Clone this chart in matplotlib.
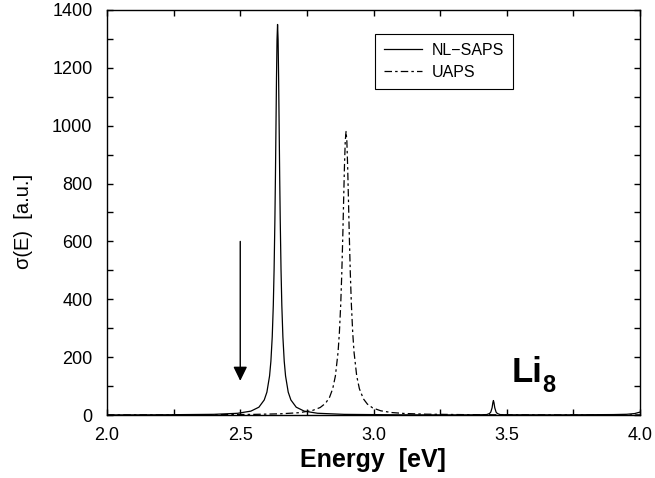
import matplotlib
matplotlib.use("Agg")
import matplotlib.pyplot as plt
from matplotlib.ticker import MultipleLocator, FormatStrFormatter

plt.rcParams['font.family'] = ['Liberation Sans', 'DejaVu Sans']

# NL-SAPS spectrum (solid)
nl_energy = [2.00, 2.20, 2.40, 2.49, 2.54, 2.57, 2.59, 2.60, 2.61, 2.615, 2.62, 2.624,
             2.627, 2.63, 2.632, 2.634, 2.636, 2.638, 2.64, 2.642, 2.644, 2.646, 2.648,
             2.65, 2.653, 2.656, 2.66, 2.665, 2.67, 2.68, 2.69, 2.71, 2.74, 2.79, 2.89,
             3.10, 3.30, 3.40, 3.425, 3.435, 3.44, 3.445, 3.448, 3.45, 3.452, 3.455,
             3.46, 3.465, 3.475, 3.50, 3.70, 3.90, 3.95, 3.98, 4.00]
nl_sigma = [0.3, 0.7, 2.3, 5.9, 13.4, 27, 52, 79, 135, 186, 270, 379,
            502, 675, 823, 993, 1164, 1298, 1350, 1298, 1164, 993, 823,
            675, 502, 379, 270, 186, 135, 79, 52, 27, 13.4, 6, 2.2,
            0.6, 0.4, 0.8, 1.5, 5, 10, 25, 43, 50, 43, 25,
            10, 5, 1.5, 0.8, 0.5, 1.5, 2.5, 5, 10]

# UAPS spectrum (dash-dot)
ua_energy = [2.00, 2.20, 2.40, 2.55, 2.65, 2.72, 2.77, 2.80, 2.82, 2.835, 2.847, 2.857,
             2.867, 2.872, 2.877, 2.881, 2.885, 2.888, 2.891, 2.894, 2.897, 2.900, 2.903,
             2.906, 2.909, 2.913, 2.917, 2.922, 2.927, 2.937, 2.947, 2.962, 2.977, 2.997,
             3.027, 3.067, 3.117, 3.197, 3.347, 3.60, 3.80, 4.00]
ua_sigma = [0.3, 0.5, 1.0, 2.1, 4.1, 7.9, 15.3, 25.9, 40.5, 61, 91, 135,
            217, 285, 382, 490, 627, 745, 859, 947, 980, 947, 859,
            745, 627, 490, 382, 285, 217, 135, 91, 56, 37.7, 24.5,
            14.6, 8.6, 5.2, 2.8, 1.24, 0.5, 0.3, 0.3]

series_labels = ['NL\u2212SAPS', 'UAPS']
x_ticks = [2.0, 2.5, 3.0, 3.5, 4.0]
y_ticks = [0, 200, 400, 600, 800, 1000, 1200, 1400]

fig = plt.figure(figsize=(6.55, 4.78), dpi=100)
ax = fig.add_axes([107/655, 1 - 415/478, (640-107)/655, (415-10)/478])

ax.plot(nl_energy, nl_sigma, color='black', lw=0.9, label=series_labels[0])
ax.plot(ua_energy, ua_sigma, color='black', lw=0.9, dashes=(6, 2.5, 2, 2.5),
        label=series_labels[1])

ax.set_xlim(2.0, 4.0)
ax.set_ylim(0, 1400)
ax.set_xticks(x_ticks)
ax.set_yticks(y_ticks)
ax.xaxis.set_major_formatter(FormatStrFormatter('%.1f'))
ax.xaxis.set_minor_locator(MultipleLocator(0.25))
ax.yaxis.set_minor_locator(MultipleLocator(100))
ax.tick_params(which='both', direction='in', top=True, right=True, width=1.0)
ax.tick_params(which='major', length=4.3, labelsize=13)
ax.tick_params(axis='y', which='major', pad=10.5)
ax.tick_params(axis='x', which='major', pad=8.5)
ax.tick_params(which='minor', length=4.0)
for s in ax.spines.values():
    s.set_linewidth(1.0)

ax.set_xlabel('Energy  [eV]', fontsize=18, fontweight='bold')
ax.xaxis.set_label_coords(0.499, -0.081)
ax.set_ylabel('\u03c3(E)  [a.u.]', fontsize=14.5)
ax.yaxis.set_label_coords(-0.139, 0.477)

leg = ax.legend(loc='upper left', bbox_to_anchor=(0.503, 0.941), borderaxespad=0,
                fancybox=False, edgecolor='black', framealpha=1, fontsize=11.5,
                handlelength=2.4, handletextpad=0.6, borderpad=0.55, labelspacing=0.45)
leg.get_frame().set_linewidth(0.8)

ax.annotate('', xy=(2.5, 118), xytext=(2.5, 600),
            arrowprops=dict(arrowstyle='-|>,head_length=0.86,head_width=0.42',
                            mutation_scale=10, color='black', lw=1.0,
                            shrinkA=0, shrinkB=0))

ax.text(3.52, 115, 'Li', fontsize=25, fontweight='bold', ha='left', va='baseline')
ax.text(3.632, 80, '8', fontsize=17, fontweight='bold', ha='left', va='baseline')

fig.savefig('out.png', dpi=100)
